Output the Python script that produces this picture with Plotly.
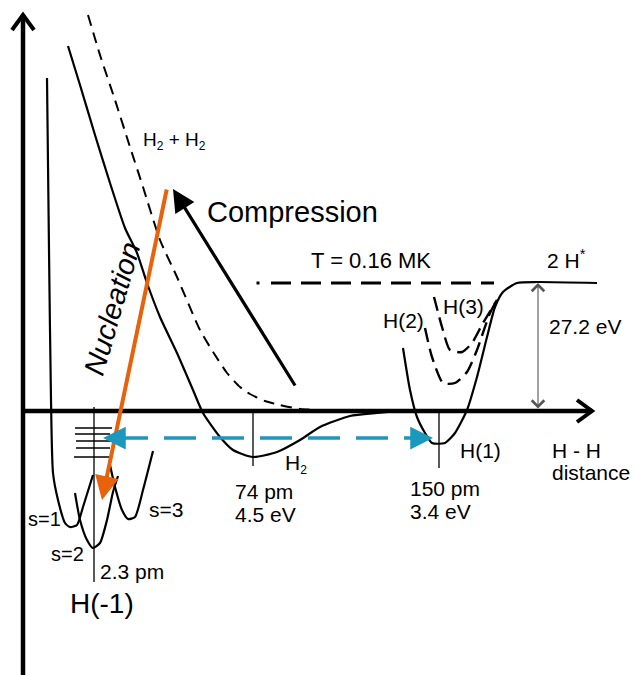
import plotly.graph_objects as go

FONT = "Liberation Sans"
ORANGE = "#e8610b"
BLUE = "#1a98bd"

# ---- axes (schematic frame, pixel-like units, y downwards) ----
axis_v_x = [23, 23]
axis_v_y = [675, 15]
axis_h_x = [23, 592]
axis_h_y = [411, 411]
chev_v_x = [12, 23, 34]
chev_v_y = [30, 15, 30]
chev_h_x = [577, 592, 577]
chev_h_y = [400, 411, 422]

# ---- potential curves ----
h2_x = [68, 80, 95, 110, 125, 137, 147, 160, 177, 193, 203, 220, 233, 253, 277, 300, 320, 350, 377, 400]
h2_y = [46, 85, 135, 183, 228, 253, 283, 317, 353, 390, 413, 437, 450, 457, 452, 440, 427, 416, 413, 411]

h2h2_x = [88, 100, 115, 130, 143, 160, 177, 200, 215, 227, 240, 250, 265, 280, 300, 320]
h2h2_y = [15, 55, 100, 147, 187, 240, 277, 330, 355, 373, 387, 394, 401, 405, 409, 410]

s1_x = [47, 49, 51, 53, 58, 65, 70, 77, 83, 93]
s1_y = [78, 250, 400, 473, 500, 523, 527, 525, 507, 475]
s2_x = [75, 80, 87, 93, 100, 107, 113, 118]
s2_y = [493, 520, 540, 548, 543, 520, 492, 476]
s3_x = [110, 115, 122, 128, 135, 143, 153]
s3_y = [465, 487, 510, 519, 517, 490, 451]

lev_x0 = [75, 75, 76, 76, 74]
lev_x1 = [112, 110, 112, 110, 110]
lev_y = [428, 434, 441, 448, 457]

h1_x = [403, 410, 417, 425, 432, 445, 455, 467, 477, 487, 495, 503, 517, 537, 597]
h1_y = [348, 390, 417, 433, 443, 443, 433, 410, 377, 337, 307, 292, 283, 282, 283]

h2s_x = [425, 432, 443, 455, 467, 477, 490, 497]
h2s_y = [328, 357, 383, 383, 372, 350, 313, 300]
h3s_x = [434, 442, 450, 462, 472, 483, 497]
h3s_y = [297, 327, 350, 352, 343, 323, 300]

# ---- reference ticks ----
ticks = {"H(-1)": (94, 407, 582), "H2": (253, 411, 466), "H(1)": (439, 411, 468)}

# ---- dashed temperature line ----
t_dot = (258, 283)
t_line_x = [271, 494]
t_line_y = [283, 283]

# ---- arrows (tip, tail) ----
nucl_tip, nucl_tail = (102, 500), (167, 188)
comp_tip, comp_tail = (173, 189), (296, 387)
blue_y = 438
blue_left_tip, blue_right_tip = 103, 433
blue_line_x = [116, 421]
gap_x, gap_top, gap_bot = 538, 283, 410

SUB2 = "<sub><span style='font-size:12px'>2</span></sub>"

fig = go.Figure()

def add_line(x, y, width=2, dash=None, color="black", shape="spline", smoothing=0.6):
    fig.add_trace(go.Scatter(x=x, y=y, mode="lines",
                             line=dict(color=color, width=width, dash=dash, shape=shape, smoothing=smoothing),
                             hoverinfo="skip", showlegend=False))

add_line(axis_v_x, axis_v_y, 4.5, shape="linear")
add_line(axis_h_x, axis_h_y, 4.5, shape="linear")
add_line(chev_v_x, chev_v_y, 4, shape="linear")
add_line(chev_h_x, chev_h_y, 4, shape="linear")

add_line(h2_x, h2_y, 2.2)
add_line(h2h2_x, h2h2_y, 2, dash="11px,7px")
add_line(s1_x, s1_y, 2.2)
add_line(s2_x, s2_y, 2.2)
add_line(s3_x, s3_y, 2.2)
for a, b, yy in zip(lev_x0, lev_x1, lev_y):
    add_line([a, b], [yy, yy], 1.3, shape="linear")
add_line(h1_x, h1_y, 2.2)
add_line(h2s_x, h2s_y, 2.4, dash="14px,7px")
add_line(h3s_x, h3s_y, 2.4, dash="14px,7px")

for k, (tx, ya, yb) in ticks.items():
    add_line([tx, tx], [ya, yb], 1.3, shape="linear")

fig.add_trace(go.Scatter(x=[t_dot[0]], y=[t_dot[1]], mode="markers",
                         marker=dict(symbol="square", size=3, color="black"),
                         hoverinfo="skip", showlegend=False))
add_line(t_line_x, t_line_y, 3, dash="20px,10px", shape="linear")

add_line(blue_line_x, [blue_y, blue_y], 3.5, dash="32px,16px", color=BLUE, shape="linear")

ann = []
def arrow(tip, tail, color, width, head, size, **kw):
    ann.append(dict(x=tip[0], y=tip[1], ax=tail[0], ay=tail[1], xref="x", yref="y",
                    axref="x", ayref="y", text="", showarrow=True, arrowhead=head,
                    arrowsize=size, arrowwidth=width, arrowcolor=color, **kw))

arrow(nucl_tip, nucl_tail, ORANGE, 4, 2, 1.2)
arrow(comp_tip, comp_tail, "black", 3.2, 2, 1.4)
arrow((blue_left_tip, blue_y), (blue_left_tip + 24, blue_y), BLUE, 3.5, 2, 1.3)
arrow((blue_right_tip, blue_y), (blue_right_tip - 24, blue_y), BLUE, 3.5, 2, 1.3)
arrow((gap_x, gap_top), (gap_x, gap_bot), "#555555", 1.1, 4, 2.2,
      arrowside="end+start", startarrowhead=4, startarrowsize=2.2)

def label(x, y, text, size=21, xanchor="center", angle=0, style="normal"):
    ann.append(dict(x=x, y=y, xref="x", yref="y", text=text, showarrow=False,
                    xanchor=xanchor, yanchor="middle", textangle=angle,
                    font=dict(family=FONT, size=size, color="black", style=style)))

label(292, 212, "Compression", 29)
label(112, 309, "Nucleation", 29, angle=-74, style="italic")
label(174, 141, "H" + SUB2 + " + H" + SUB2, 19)
label(371, 260, "T = 0.16 MK", 22)
label(545, 259, "2 H<sup>*</sup>", 21, xanchor="left")
label(403, 320, "H(2)", 21)
label(463, 306, "H(3)", 21)
label(547, 326, "27.2 eV", 21, xanchor="left")
label(458, 450, "H(1)", 21, xanchor="left")
label(550, 450, "H - H", 21, xanchor="left")
label(550, 472, "distance", 21, xanchor="left")
label(283, 464, "H" + SUB2, 21, xanchor="left")
label(233, 491, "74 pm", 21, xanchor="left")
label(233, 514, "4.5 eV", 21, xanchor="left")
label(408, 488, "150 pm", 21, xanchor="left")
label(408, 511, "3.4 eV", 21, xanchor="left")
label(98, 571, "2.3 pm", 21, xanchor="left")
label(102, 603, "H(-1)", 28)
label(26, 519, "s=1", 20, xanchor="left")
label(49, 554, "s=2", 20, xanchor="left")
label(147, 509, "s=3", 21, xanchor="left")

fig.update_layout(
    width=633, height=675, margin=dict(l=0, r=0, t=0, b=0),
    paper_bgcolor="white", plot_bgcolor="white", showlegend=False,
    xaxis=dict(range=[0, 633], visible=False, fixedrange=True),
    yaxis=dict(range=[675, 0], visible=False, fixedrange=True),
    annotations=ann,
)

fig.write_html("out.html", config={"displayModeBar": False},
               post_script="document.body.style.margin='0';document.body.style.padding='0';")
